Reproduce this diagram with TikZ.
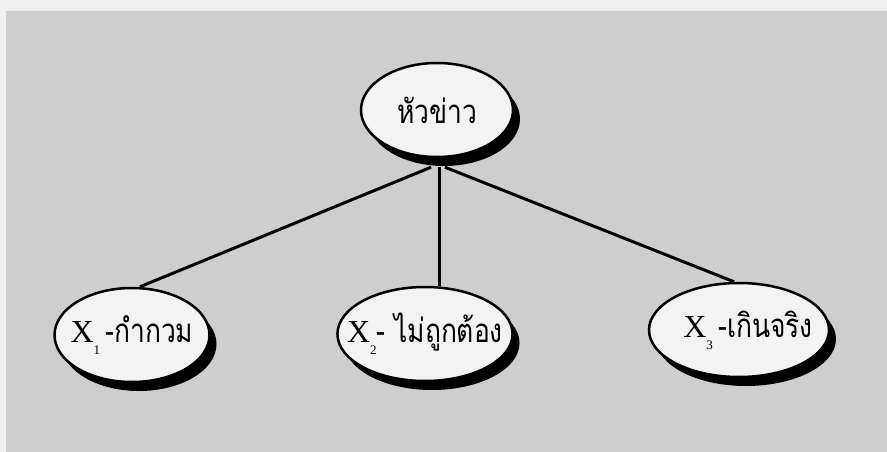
\documentclass[tikz,border=0pt]{standalone}
\usepackage{fontspec}
\setmainfont{Liberation Serif}
\newfontfamily\thaifont[Script=Thai, FakeStretch=0.8]{Loma}
\usetikzlibrary{shapes.geometric,shadows}

\definecolor{paper}{RGB}{206,206,206}
\definecolor{edge}{RGB}{240,240,240}
\definecolor{bubble}{RGB}{243,243,243}

% X with a low index
\newcommand{\xvar}[1]{X\raisebox{-12pt}{\fontsize{13}{13}\selectfont #1}}
% thai words
\newcommand{\thw}[1]{{\thaifont\fontsize{33}{35}\selectfont #1}}

\begin{document}
\begin{tikzpicture}[
x=1pt, y=-1pt,
bubble/.style={ellipse,
               draw, line width=2.5pt,
               fill=bubble,
               inner xsep=-16pt, inner ysep=0pt,
               minimum height=94pt,
               font=\fontsize{32}{34}\selectfont,
               drop shadow={shadow xshift=7pt, shadow yshift=-9pt,
                            fill=black, opacity=1}
               },
link/.style={line width=3pt}]

% page
\useasboundingbox (0,0) rectangle (887,452);
\fill[edge] (0,0) rectangle (887,452);
\fill[paper] (6,11) rectangle (887,452);

% head
\node[bubble, minimum width=152pt] (head) at (437,110) {\thw{หัวข่าว}};
\coordinate (hub) at ([yshift=-9pt]head.south);

% X_1, X_2, X_3
\node[bubble, minimum width=155pt] (vague) at (132,335)
  {\xvar{1}\,\thw{-กำกวม}};
\node[bubble, minimum width=175pt] (wrong) at (425,334)
  {\xvar{2}\thw{- ไม่ถูกต้อง}};
\node[bubble, minimum width=180pt] (over) at (739,330)
  {\hspace{18pt}\xvar{3}\,\thw{-เกินจริง}};

% links
\draw[link] ([xshift=-6pt]hub) -- ([xshift=8pt]vague.north);
\draw[link] ([xshift=2pt]hub) -- ([xshift=2pt]hub |- wrong.north);
\draw[link] ([xshift=8pt]hub) -- ([xshift=-5pt]over.north);

\end{tikzpicture}
\end{document}
